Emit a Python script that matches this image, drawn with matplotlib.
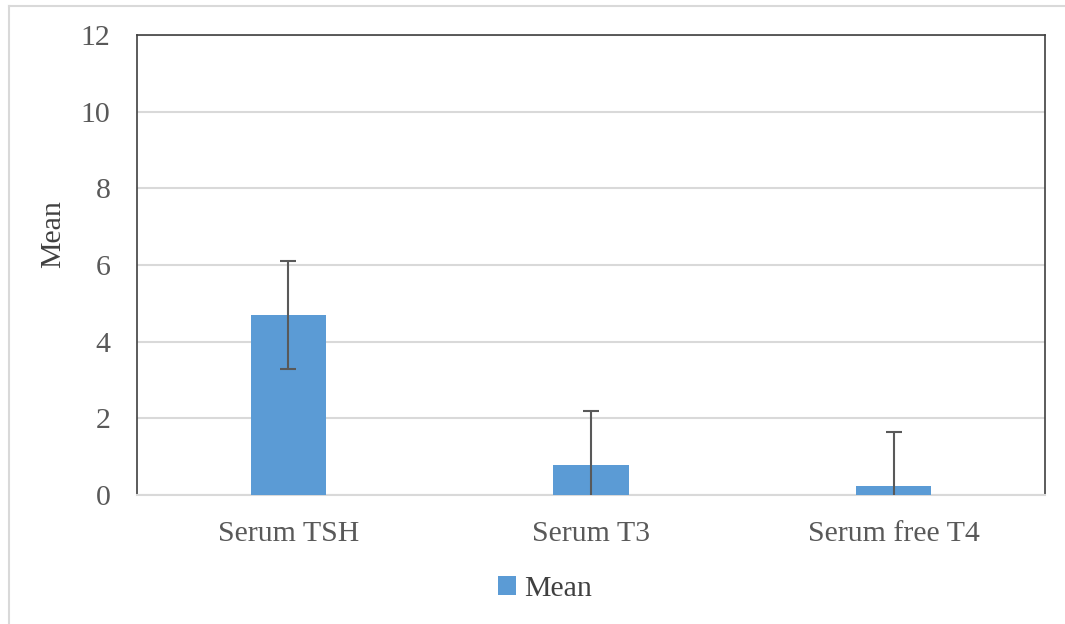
import matplotlib.pyplot as plt
import numpy as np
from matplotlib.lines import Line2D

# Data
categories = ['Serum TSH', 'Serum T3', 'Serum free T4']
means = [4.7, 0.78, 0.24]
errors = [1.4, 1.41, 1.41]

plt.rcParams['font.family'] = ['Liberation Serif', 'DejaVu Serif']

fig = plt.figure(figsize=(10.65, 6.24), dpi=100)
ax = fig.add_axes([137/1065, 129/624, 908/1065, 460/624])

# outer chart border (light grey, top and left visible)
fig.add_artist(Line2D([8.5/1065, 1.0], [1 - 6/624, 1 - 6/624], color='#D9D9D9', lw=1.5))
fig.add_artist(Line2D([8.5/1065, 8.5/1065], [0, 1 - 6/624], color='#D9D9D9', lw=1.5))

x = np.arange(len(categories))
ax.bar(x, means, 0.25, color='#5B9BD5', label='Mean', zorder=3)
ax.errorbar(x, means, yerr=errors, fmt='none', ecolor='#595959', elinewidth=1.5,
            capsize=6, capthick=1.5, zorder=4)

ax.set_xlim(-0.5, 2.5)
ax.set_ylim(0, 12)
ax.set_yticks(range(0, 13, 2))
ax.set_xticks(x)
ax.set_xticklabels(categories)
ax.tick_params(length=0, labelsize=21.5, labelcolor='#595959')
ax.tick_params(axis='x', pad=19)
ax.tick_params(axis='y', pad=19)
ax.yaxis.grid(True, color='#D9D9D9', lw=1.5, zorder=0)
ax.set_axisbelow(True)
for s in ax.spines.values():
    s.set_color('#404040')
    s.set_linewidth(1.2)
ax.spines['bottom'].set_color('#D9D9D9')
ax.spines['bottom'].set_linewidth(1.5)

ax.set_ylabel('Mean', fontsize=21.5, color='#404040')
ax.yaxis.set_label_coords(-71/908, (495 - 234)/460)

ax.legend(loc='center', bbox_to_anchor=(545/1065, 1 - 589/624), bbox_transform=fig.transFigure,
          frameon=False, fontsize=21.5, handlelength=0.6, handleheight=0.6, handletextpad=0.25,
          labelcolor='#404040')

fig.savefig('out.png', dpi=100)
